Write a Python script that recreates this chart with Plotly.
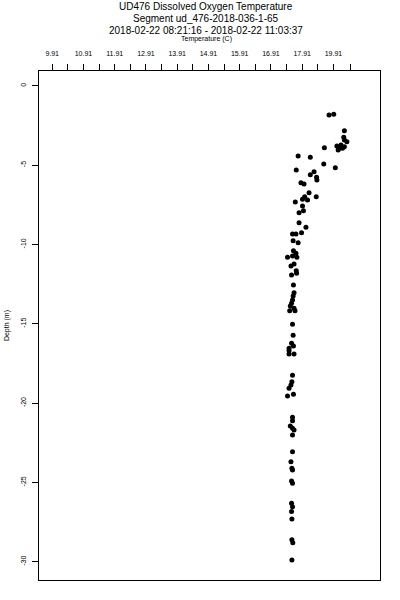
import plotly.graph_objects as go

# Temperature (C) and depth (m)
temperature = [
    18.77, 18.92, 19.26, 19.24, 19.26, 19.34, 19.15, 19.02, 19.10, 19.20,
    19.26, 19.06, 18.62, 17.78, 18.17, 18.60, 17.72, 18.97, 18.29, 18.17,
    18.37, 18.38, 17.87, 17.97, 18.13, 17.99, 17.92, 18.08, 18.36, 17.69,
    17.92, 17.95, 17.81, 17.81, 18.03,
    17.60, 17.71, 17.89, 17.62, 17.78, 17.63, 17.71, 17.74, 17.44, 17.60,
    17.65, 17.55, 17.72, 17.73, 17.57, 17.63, 17.65, 17.62, 17.60, 17.57,
    17.53, 17.65, 17.51, 17.68, 17.60, 17.62, 17.57, 17.63, 17.49, 17.49,
    17.49, 17.65,
    17.60, 17.58, 17.55, 17.49, 17.44, 17.63, 17.60, 17.60, 17.53, 17.60,
    17.65, 17.60, 17.60, 17.55, 17.58, 17.60, 17.57, 17.60, 17.57, 17.60,
    17.57, 17.58, 17.58, 17.61, 17.58,
]
depth = [
    -1.85, -1.80, -2.84, -3.25, -3.42, -3.53, -3.74, -3.80, -3.94, -3.94,
    -3.84, -4.05, -3.91, -4.43, -4.51, -4.93, -5.31, -5.17, -5.42, -5.61,
    -5.77, -5.94, -6.11, -6.19, -6.74, -6.99, -7.16, -7.20, -6.99, -7.33,
    -7.58, -7.88, -8.00, -8.63, -8.92,
    -9.34, -9.34, -9.26, -9.77, -9.89, -10.40, -10.56, -10.81, -10.81, -10.73,
    -11.24, -11.36, -11.66, -11.82, -11.93, -12.56, -13.04, -13.25, -13.50, -13.71,
    -13.88, -14.03, -14.18, -14.18, -15.03, -15.73, -16.23, -16.40, -16.55, -16.70,
    -16.91, -16.91,
    -18.25, -18.65, -18.86, -19.07, -19.55, -19.45, -20.89, -21.11, -21.44, -21.59,
    -21.69, -22.01, -23.06, -23.69, -24.11, -24.21, -24.91, -25.05, -26.31, -26.53,
    -26.84, -27.30, -28.62, -28.80, -29.89,
]

x_tick_vals = [9.91, 10.41, 10.91, 11.41, 11.91, 12.41, 12.91, 13.41, 13.91, 14.41,
               14.91, 15.41, 15.91, 16.41, 16.91, 17.41, 17.91, 18.41, 18.91, 19.47]
x_tick_text = ["9.91", "", "10.91", "", "11.91", "", "12.91", "", "13.91", "",
               "14.91", "", "15.91", "", "16.91", "", "17.91", "", "19.91", ""]
y_tick_vals = [0, -5, -10, -15, -20, -25, -30]
y_tick_text = ["0", "-5", "-10", "-15", "-20", "-25", "-30"]

title_lines = [
    "UD476 Dissolved Oxygen Temperature",
    "Segment ud_476-2018-036-1-65",
    "2018-02-22 08:21:16 - 2018-02-22 11:03:37",
]
x_title = "Temperature (C)"
y_title = "Depth (m)"

FONT = "Liberation Sans, Arial, sans-serif"

fig = go.Figure(
    go.Scatter(
        x=temperature, y=depth, mode="markers",
        marker=dict(color="black", size=5, line=dict(width=0)),
        showlegend=False, hoverinfo="x+y",
    )
)

PLOT_TOP, PLOT_BOTTOM = 71, 580
PLOT_LEFT, PLOT_RIGHT = 39, 380
PH = PLOT_BOTTOM - PLOT_TOP

def py2paper(py):
    return 1 + (PLOT_TOP - py) / PH

annotations = []
for txt, ypx in zip(title_lines, [7, 18.5, 30]):
    annotations.append(dict(text=txt, x=0.49, xref="paper", y=py2paper(ypx), yref="paper",
                            xanchor="center", yanchor="middle", showarrow=False,
                            font=dict(family=FONT, size=10, color="black")))
annotations.append(dict(text=x_title, x=0.49, xref="paper", y=py2paper(39), yref="paper",
                        xanchor="center", yanchor="middle", showarrow=False,
                        font=dict(family=FONT, size=7, color="black")))
annotations.append(dict(text=y_title, x=-0.095, xref="paper", y=0.5, yref="paper",
                        xanchor="center", yanchor="middle", showarrow=False, textangle=-90,
                        font=dict(family=FONT, size=7, color="black")))

fig.update_layout(
    width=400, height=600,
    margin=dict(l=PLOT_LEFT, r=400 - PLOT_RIGHT, t=PLOT_TOP,
                b=600 - PLOT_BOTTOM, pad=0, autoexpand=False),
    paper_bgcolor="white", plot_bgcolor="white",
    font=dict(family=FONT, size=7, color="black"),
    annotations=annotations,
    xaxis=dict(
        side="top", range=[9.488, 20.40], automargin=False,
        tickmode="array", tickvals=x_tick_vals, ticktext=x_tick_text,
        ticks="outside", ticklen=6, tickwidth=1, tickcolor="black",
        showline=True, linecolor="black", linewidth=1, mirror=True,
        showgrid=False, zeroline=False, tickfont=dict(size=7, family=FONT),
        ticklabelstandoff=5,
    ),
    yaxis=dict(
        range=[-31.15, 0.93], automargin=False,
        tickmode="array", tickvals=y_tick_vals, ticktext=y_tick_text,
        tickangle=-90,
        ticks="outside", ticklen=6, tickwidth=1, tickcolor="black",
        showline=True, linecolor="black", linewidth=1, mirror=True,
        showgrid=False, zeroline=False, tickfont=dict(size=7, family=FONT),
        ticklabelstandoff=3,
    ),
)

fig.write_html("out.html", config={"displayModeBar": False},
               post_script="document.body.style.margin='0px';")
